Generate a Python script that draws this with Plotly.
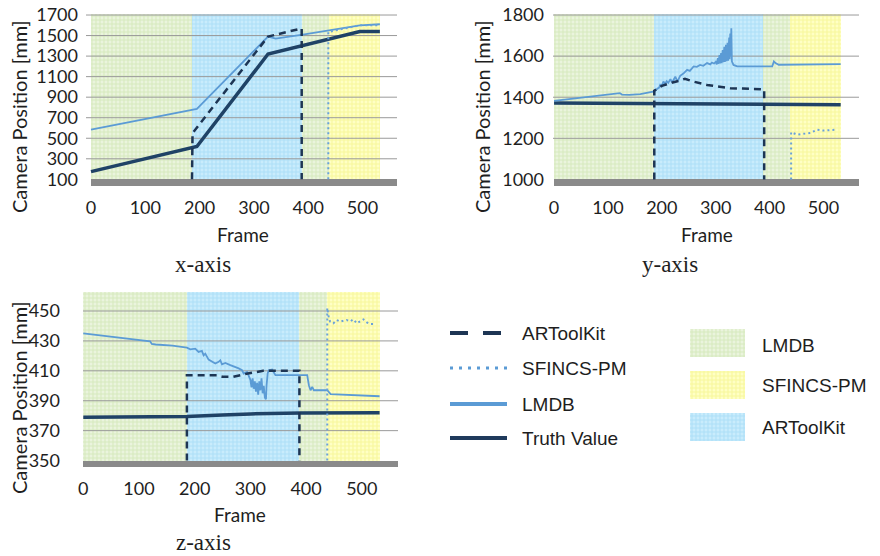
import plotly.graph_objects as go

# ---------------- data ----------------
REGION_EDGES = [0, 186, 388, 438, 533]
REGION_NAMES = ["LMDB", "ARToolKit", "LMDB", "SFINCS-PM"]
FRAME_TICKS = [0, 100, 200, 300, 400, 500]

# x-axis panel
X_TICKS = [100, 300, 500, 700, 900, 1100, 1300, 1500, 1700]
X_TRUTH_F = [0, 195, 326, 495, 532]
X_TRUTH_V = [175, 420, 1320, 1540, 1540]
X_LMDB_F = [0, 195, 326, 340, 390, 495, 532]
X_LMDB_V = [585, 785, 1490, 1470, 1510, 1600, 1610]
X_ART_F = [186, 187, 326, 388, 388]
X_ART_V = [100, 550, 1490, 1570, 100]
X_SF_F = [437, 437, 495, 532]
X_SF_V = [100, 1535, 1600, 1600]

# y-axis panel
Y_TICKS = [1000, 1200, 1400, 1600, 1800]
Y_TRUTH_F = [0, 100, 186, 260, 300, 390, 532]
Y_TRUTH_V = [1372, 1371, 1370, 1368, 1365, 1364, 1363]
Y_LMDB_F = [0, 40, 80, 116, 122, 126, 140, 160, 186, 191, 195, 197, 200, 203, 206, 209, 212, 216,
            219, 222, 225, 229, 234, 240, 247, 252, 259, 265, 271, 277, 284, 290, 293, 297, 300,
            302, 304, 305, 307, 308, 310, 311, 313, 314, 316, 317, 319, 320, 322, 323, 325, 326,
            327, 328, 329, 330, 333, 340, 405, 408, 411, 417, 440, 460, 532]
Y_LMDB_V = [1382, 1395, 1406, 1418, 1420, 1413, 1411, 1415, 1428, 1440, 1447, 1460, 1455, 1476, 1466,
            1478, 1470, 1488, 1472, 1485, 1500, 1476, 1504, 1515, 1533, 1528, 1550, 1548, 1557, 1553,
            1566, 1560, 1569, 1564, 1572,
            1560, 1590, 1562, 1605, 1565, 1615, 1566, 1630, 1570, 1645, 1572, 1655, 1575, 1665, 1578,
            1690, 1585, 1710, 1600, 1735, 1575, 1557, 1550, 1550, 1574, 1566, 1558, 1558, 1561, 1561]
Y_ART_F = [186, 186, 200, 210, 220, 232, 243, 259, 270, 284, 300, 315, 327, 350, 383, 390, 390]
Y_ART_V = [1000, 1432, 1455, 1465, 1472, 1480, 1490, 1476, 1468, 1460, 1454, 1449, 1444, 1442,
           1440, 1438, 1000]
Y_SF_F = [440, 440, 451, 465, 476, 488, 500, 525]
Y_SF_V = [1000, 1230, 1218, 1222, 1226, 1242, 1238, 1242]

# z-axis panel
Z_TICKS = [350, 370, 390, 410, 430, 450]
Z_TRUTH_F = [0, 100, 186, 250, 300, 390, 450, 532]
Z_TRUTH_V = [379, 379.3, 379.5, 380.5, 381.2, 381.8, 382, 382]
Z_LMDB_F = [0, 30, 60, 90, 120, 123, 130, 160, 186, 192, 201, 207, 213, 216, 219, 225, 231, 237,
            243, 246, 249, 255, 264, 273, 279, 285, 288, 294, 297, 300, 302, 304, 306, 308, 310,
            312, 314, 316, 318, 320, 322, 324, 326, 328, 329, 331, 333, 339, 345, 402, 405, 408,
            411, 414, 438, 444, 532]
Z_LMDB_V = [435, 433.6, 432.2, 431, 429.7, 428, 427.6, 426.8, 425.5, 424.4, 424.8, 422.6, 423.3,
            420.4, 421.5, 417.5, 416, 414.9, 416, 417.1, 414.4, 415.3, 413.8, 412.7, 411.6, 410.4,
            408.2, 409.3, 406, 404, 399, 405, 398, 403, 396, 402, 394, 403, 397, 405, 395, 400,
            392, 391, 400, 408.2, 410.4, 410.9, 407.1, 407.1, 400.4, 397, 399.3, 397, 397, 394.4,
            393]
Z_ART_F = [186, 186, 240, 250, 269, 280, 293, 323, 388, 388]
Z_ART_V = [350, 407, 407, 406, 406, 407, 408, 410, 410, 350]
Z_SF_F = [438, 438, 441, 443, 449, 455, 461, 467, 473, 479, 485, 491, 497, 503, 509, 515, 524]
Z_SF_V = [350, 452, 445, 443, 441.8, 444, 442.9, 443.3, 444, 443, 444.4, 441.8, 443.3, 444.4,
          442.4, 441.3, 441.3]

SERIES_NAMES = ["ARToolKit", "SFINCS-PM", "LMDB", "Truth Value"]
REGION_LEGEND = ["LMDB", "SFINCS-PM", "ARToolKit"]

# ---------------- styles ----------------
W, H = 880, 556
FONT = "Lato"
TXT = "#1e1e1e"
REGION_STYLE = {
    "LMDB": dict(bg="#eaf4dd", fg="#c3df9d"),
    "ARToolKit": dict(bg="#c9ecfc", fg="#90d1f1"),
    "SFINCS-PM": dict(bg="#ffffc4", fg="#eeee72"),
}
LINE_STYLE = {
    "ARToolKit": dict(color="#1d3554", width=2.5, dash="7px,5px"),
    "SFINCS-PM": dict(color="#6aa2da", width=2, dash="2px,3px"),
    "LMDB": dict(color="#5b9bd5", width=1.8),
    "Truth Value": dict(color="#1f4266", width=3.5),
}

def px_x(p):
    return p / W

def px_y(p):
    return 1 - p / H

panels = [
    dict(ax="", xdom=(86, 397), ydom=(14, 186), xr=(-9.2, 563.5), yr=(35, 1710), ticks=X_TICKS,
         ystand=7, series={"ARToolKit": (X_ART_F, X_ART_V), "SFINCS-PM": (X_SF_F, X_SF_V),
                           "LMDB": (X_LMDB_F, X_LMDB_V), "Truth Value": (X_TRUTH_F, X_TRUTH_V)}),
    dict(ax="2", xdom=(553, 859), ydom=(14, 186), xr=(-2, 566), yr=(968, 1805), ticks=Y_TICKS,
         ystand=8, series={"ARToolKit": (Y_ART_F, Y_ART_V), "SFINCS-PM": (Y_SF_F, Y_SF_V),
                           "LMDB": (Y_LMDB_F, Y_LMDB_V), "Truth Value": (Y_TRUTH_F, Y_TRUTH_V)}),
    dict(ax="3", xdom=(83, 398), ydom=(292, 467), xr=(-0.5, 565), yr=(345.7, 462.7), ticks=Z_TICKS,
         ystand=22, series={"ARToolKit": (Z_ART_F, Z_ART_V), "SFINCS-PM": (Z_SF_F, Z_SF_V),
                            "LMDB": (Z_LMDB_F, Z_LMDB_V), "Truth Value": (Z_TRUTH_F, Z_TRUTH_V)}),
]

fig = go.Figure()
layout_axes = {}

for p in panels:
    xa, ya = "x" + p["ax"], "y" + p["ax"]
    y0, y1 = p["yr"]
    x0, x1 = p["xr"]
    # background regions
    for a, b, name in zip(REGION_EDGES[:-1], REGION_EDGES[1:], REGION_NAMES):
        st = REGION_STYLE[name]
        fig.add_trace(go.Bar(
            x=[(a + b) / 2], y=[y1 - y0], base=[y0], width=[b - a],
            marker=dict(color=st["bg"], line=dict(width=0),
                        pattern=dict(shape="+", fgcolor=st["fg"], bgcolor=st["bg"], size=4, solidity=0.45)),
            xaxis=xa, yaxis=ya, showlegend=False, hoverinfo="skip"))
    # floor
    fig.add_trace(go.Bar(
        x=[(REGION_EDGES[0] + x1) / 2], y=[p["ticks"][0] - y0], base=[y0], width=[x1 - REGION_EDGES[0]],
        marker=dict(color="#8a8a8a", line=dict(width=0)),
        xaxis=xa, yaxis=ya, showlegend=False, hoverinfo="skip"))
    # grid lines
    gx, gy = [], []
    for t in p["ticks"][1:]:
        gx += [x0, x1, None]
        gy += [t, t, None]
    fig.add_trace(go.Scatter(x=gx, y=gy, mode="lines", line=dict(color="#9a9a9a", width=1),
                             xaxis=xa, yaxis=ya, showlegend=False, hoverinfo="skip"))
    # data series
    for name in ["Truth Value", "LMDB", "SFINCS-PM", "ARToolKit"]:
        f, v = p["series"][name]
        fig.add_trace(go.Scatter(x=f, y=v, mode="lines", name=name, line=LINE_STYLE[name],
                                 xaxis=xa, yaxis=ya, showlegend=False))
    layout_axes["xaxis" + p["ax"]] = dict(
        domain=[px_x(p["xdom"][0]), px_x(p["xdom"][1])], range=list(p["xr"]), anchor=ya,
        tickvals=FRAME_TICKS, showgrid=False, zeroline=False, showline=False, ticks="",
        automargin=False, ticklabeloverflow="allow", ticklabelstandoff=9,
        tickfont=dict(family=FONT, size=18, color=TXT))
    layout_axes["yaxis" + p["ax"]] = dict(
        domain=[px_y(p["ydom"][1]), px_y(p["ydom"][0])], range=list(p["yr"]), anchor=xa,
        tickvals=p["ticks"], showgrid=False, zeroline=False, showline=False, ticks="",
        automargin=False, ticklabeloverflow="allow", ticklabelstandoff=p["ystand"],
        tickfont=dict(family=FONT, size=18, color=TXT))

# legend patches (region key) in a small hidden subplot
for name in REGION_LEGEND:
    st = REGION_STYLE[name]
    fig.add_trace(go.Bar(
        y=[name], x=[1], orientation="h", width=0.667,
        marker=dict(color=st["bg"], line=dict(width=0),
                    pattern=dict(shape="+", fgcolor=st["fg"], bgcolor=st["bg"], size=4, solidity=0.45)),
        xaxis="x4", yaxis="y4", showlegend=False, hoverinfo="skip"))
layout_axes["xaxis4"] = dict(domain=[px_x(690), px_x(745)], range=[0, 1], visible=False,
                             anchor="y4", automargin=False)
layout_axes["yaxis4"] = dict(domain=[px_y(448), px_y(322)], range=[2.5, -0.5], visible=False,
                             anchor="x4", automargin=False, categoryorder="array",
                             categoryarray=REGION_LEGEND)

annotations = []
shapes = []

def ann(text, x, y, size=18, family=FONT, angle=0, xanchor="center"):
    annotations.append(dict(text=text, x=px_x(x), y=px_y(y), xref="paper", yref="paper",
                            showarrow=False, textangle=angle, xanchor=xanchor, yanchor="middle",
                            font=dict(family=family, size=size, color=TXT)))

# axis titles & captions
ann("Frame", 243, 234, size=19)
ann("Frame", 707, 234, size=19)
ann("Frame", 240, 514, size=19)
ann("Camera Position [mm]", 19, 117, size=20, angle=-90)
ann("Camera Position [mm]", 482, 117, size=20, angle=-90)
ann("Camera Position [mm]", 19, 398, size=20, angle=-90)
ann("x-axis", 203, 265, size=23, family="Liberation Serif")
ann("y-axis", 670, 265, size=23, family="Liberation Serif")
ann("z-axis", 203, 542, size=23, family="Liberation Serif")

# line legend
leg_rows = [333, 368, 404, 438]
leg_style = {
    "ARToolKit": dict(color="#1d3554", width=4, dash="18px,15px"),
    "SFINCS-PM": dict(color="#5b9bd5", width=3, dash="3px,6px"),
    "LMDB": dict(color="#5b9bd5", width=4),
    "Truth Value": dict(color="#1f3a5c", width=4),
}
for name, yy in zip(SERIES_NAMES, leg_rows):
    shapes.append(dict(type="line", xref="paper", yref="paper", x0=px_x(450), x1=px_x(507),
                       y0=px_y(yy), y1=px_y(yy), line=leg_style[name]))
    ann(name, 520, yy, size=19, family="Liberation Sans", xanchor="left")
for name, yy in zip(REGION_LEGEND, [345, 385, 427]):
    ann(name, 760, yy, size=19, family="Liberation Sans", xanchor="left")

fig.update_layout(
    width=W, height=H, margin=dict(l=0, r=0, t=0, b=0, autoexpand=False),
    paper_bgcolor="white", plot_bgcolor="rgba(0,0,0,0)",
    barmode="overlay", bargap=0, showlegend=False,
    annotations=annotations, shapes=shapes, **layout_axes)

# remove the default 8px page margin so the figure sits at the window corner
fig.write_html("out.html", config={"displayModeBar": False},
               post_script="document.body.style.margin='0';document.body.style.overflow='hidden';")
